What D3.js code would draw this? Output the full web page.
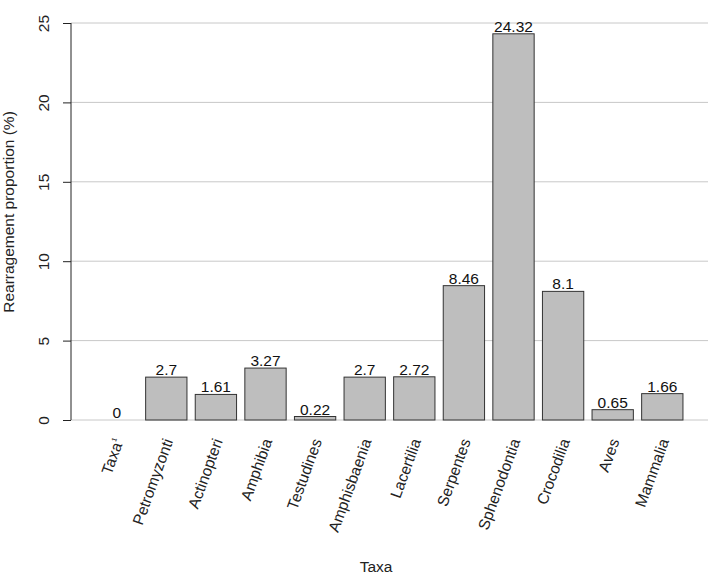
<html>
<head>
  <script src="https://d3js.org/d3.v7.min.js"></script>
  <style>
    body{ margin:0; background:#fff; }
    svg{ display:block; font-family:"Liberation Sans", Arial, sans-serif; }
  </style>
</head>
<body>
  <script type="text/javascript">

    var taxa = ["Taxa", "Petromyzonti", "Actinopteri", "Amphibia", "Testudines", "Amphisbaenia",
                "Lacertilia", "Serpentes", "Sphenodontia", "Crocodilia", "Aves", "Mammalia"]
    var proportion = [0, 2.7, 1.61, 3.27, 0.22, 2.7, 2.72, 8.46, 24.32, 8.1, 0.65, 1.66]
    var yTicks = [0, 5, 10, 15, 20, 25]

    var data = taxa.map(function(t, i){ return {name: t, value: proportion[i]} })

    var svg = d3.select("body").append("svg")
                .attr("width", 708)
                .attr("height", 587)

    // scales
    var xScale = d3.scaleBand()
        .domain(taxa)
        .range([91.9, 687.1])
        .paddingInner(0.167)
        .paddingOuter(0.0835)
    var yScale = d3.scaleLinear()
        .domain([0, 25])
        .range([420, 23])

    // grid lines
    svg.append("g").classed("grid", true)
       .selectAll("line")
       .data(yTicks)
       .enter()
       .append("line")
       .attr("x1", 71)
       .attr("x2", 708)
       .attr("y1", function(d){ return yScale(d) })
       .attr("y2", function(d){ return yScale(d) })
       .attr("stroke", "#c8c8c8")
       .attr("stroke-width", 1)

    // bars
    svg.append("g").classed("bars", true)
       .selectAll("rect")
       .data(data)
       .enter()
       .append("rect")
       .attr("x", function(d){ return xScale(d.name) })
       .attr("y", function(d){ return yScale(d.value) })
       .attr("width", xScale.bandwidth())
       .attr("height", function(d){ return yScale(0) - yScale(d.value) })
       .attr("fill", "#bebebe")
       .attr("stroke", function(d){ return d.value > 0 ? "#333" : "none" })
       .attr("stroke-width", 1)

    // value labels
    svg.append("g").classed("values", true)
       .selectAll("text")
       .data(data)
       .enter()
       .append("text")
       .attr("x", function(d){ return xScale(d.name) + xScale.bandwidth() / 2 })
       .attr("y", function(d){ return yScale(d.value) - 2 })
       .attr("text-anchor", "middle")
       .attr("font-size", 15.5)
       .attr("fill", "#111")
       .text(function(d){ return d.value })

    // y axis
    var yAxis = d3.axisLeft(yScale)
                  .tickValues(yTicks)
                  .tickSize(8)
    var yG = svg.append("g").classed("yAxis", true)
       .attr("transform", "translate(71,0)")
       .call(yAxis)
    yG.select(".domain").attr("d", "M0," + yScale(25) + "V" + yScale(0)).attr("stroke", "#222")
    yG.selectAll(".tick line").attr("stroke", "#222")
    yG.selectAll(".tick text")
      .attr("font-size", 15.5)
      .attr("font-family", "Liberation Sans, Arial, sans-serif")
      .attr("fill", "#222")
      .attr("text-anchor", "middle")
      .attr("transform", "translate(-27,0) rotate(-90)")
      .attr("x", 0)
      .attr("y", 0)
      .attr("dy", "0.35em")

    // x labels
    var xLabels = svg.append("g").classed("xLabels", true)
       .selectAll("text")
       .data(taxa)
       .enter()
       .append("text")
       .attr("transform", function(d){
         return "translate(" + (xScale(d) + xScale.bandwidth() / 2 + 7) + ",441) rotate(-70)"
       })
       .attr("text-anchor", "end")
       .attr("font-size", 15.5)
       .attr("fill", "#222")
    xLabels.append("tspan").text(function(d){ return d })
    xLabels.filter(function(d, i){ return i === 0 })
           .append("tspan")
           .attr("font-size", 7)
           .attr("dy", -7)
           .text("1")

    // axis titles
    svg.append("text")
       .attr("x", 376)
       .attr("y", 572)
       .attr("text-anchor", "middle")
       .attr("font-size", 15.5)
       .attr("fill", "#222")
       .text("Taxa")
    svg.append("text")
       .attr("transform", "translate(14,212) rotate(-90)")
       .attr("text-anchor", "middle")
       .attr("font-size", 15.5)
       .attr("fill", "#222")
       .text("Rearragement proportion (%)")

  </script>
</body>
</html>
